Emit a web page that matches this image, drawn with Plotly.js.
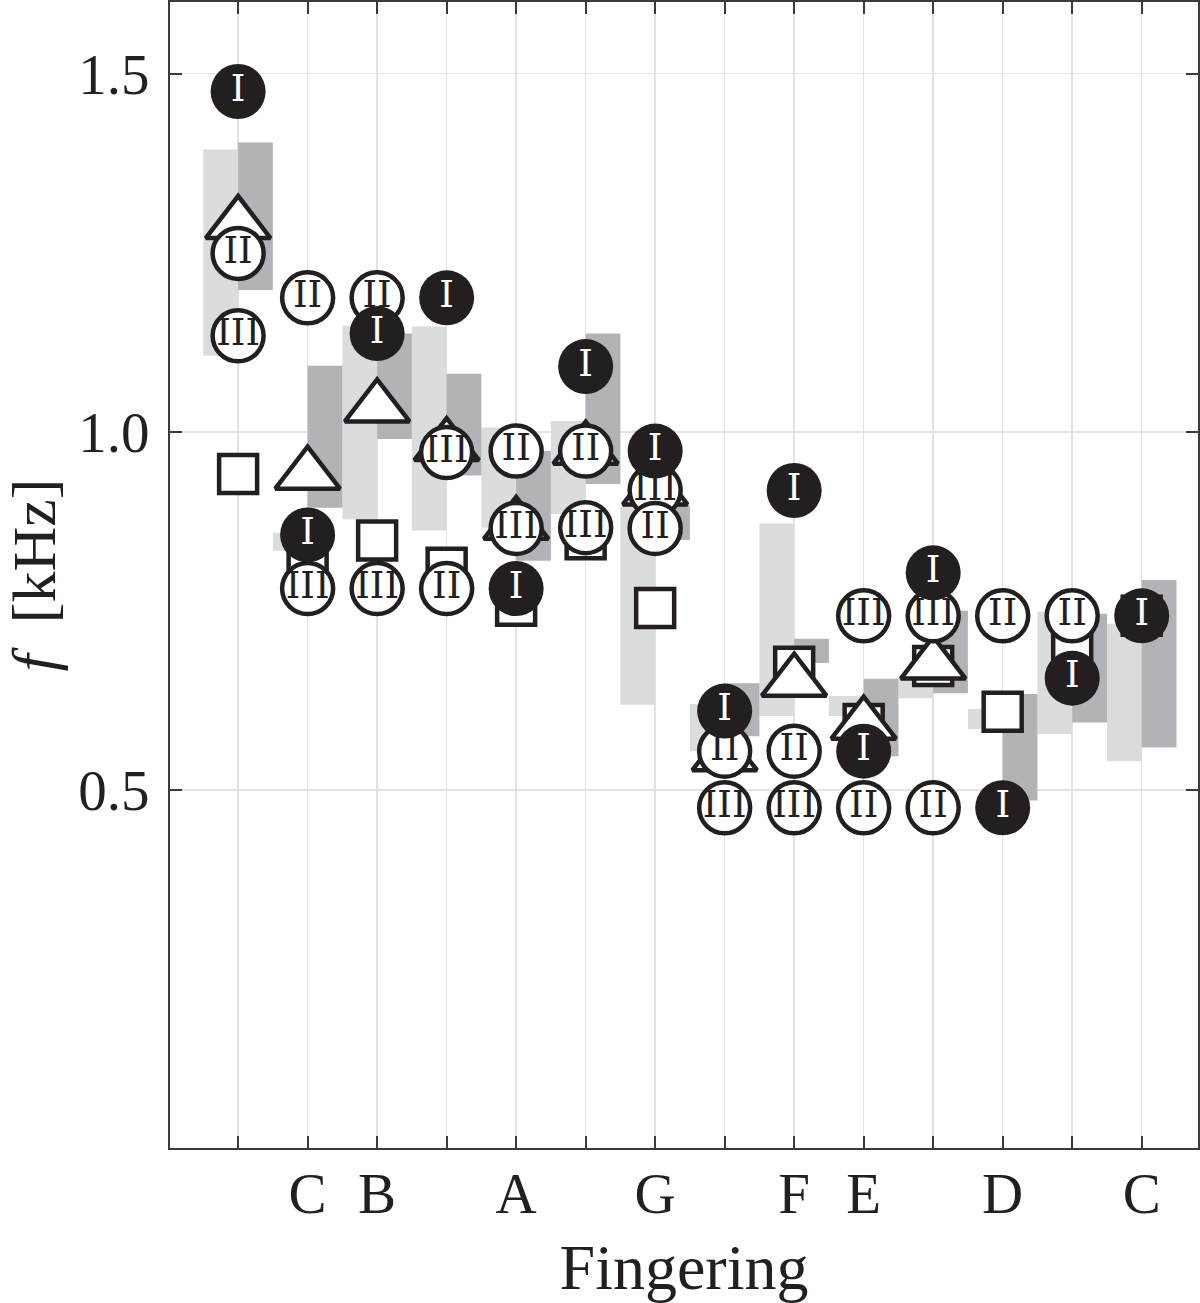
<!DOCTYPE html>
<html>
<head>
<meta charset="utf-8">
<script src="https://cdn.plot.ly/plotly-3.0.1.min.js"></script>
<style>
    html, body { margin: 0; padding: 0; background: #ffffff; }
    #chart { width: 1200px; height: 1303px; }
</style>
</head>
<body>
<div id="chart"></div>
<script>
// Fingering positions and their note labels
const positions = [1, 2, 3, 4, 5, 6, 7, 8, 9, 10, 11, 12, 13, 14];
const noteLabels = ["", "C", "B", "", "A", "", "G", "", "F", "E", "", "D", "", "C"];

// Shaded ranges [kHz]: light bar left of the position, dark bar right of it
const lightLow  = [1.106, 0.834, 0.878, 0.862, 0.866, 0.885, 0.619, 0.554, 0.603, 0.603, 0.628, 0.585, 0.578, 0.540];
const lightHigh = [1.394, 0.859, 1.148, 1.147, 1.006, 1.015, 0.897, 0.620, 0.872, 0.631, 0.656, 0.613, 0.749, 0.732];
const darkLow   = [1.198, 0.894, 0.990, 0.939, 0.820, 0.927, 0.849, 0.575, 0.677, 0.547, 0.635, 0.485, 0.594, 0.559];
const darkHigh  = [1.404, 1.092, 1.137, 1.081, 0.973, 1.137, 0.897, 0.649, 0.711, 0.655, 0.750, 0.634, 0.746, 0.793];

// Resonance frequencies [kHz] (null = not present)
const squareFreq   = [0.941, 0.830, 0.848, 0.810, 0.757, 0.850, 0.754, null, 0.672, 0.592, 0.673, 0.609, 0.690, 0.743];
const triangleFreq = [1.290, 0.940, 1.034, 0.980, 0.870, 0.975, 0.918, 0.547, 0.651, 0.591, 0.675, null, null, null];
const modeIFreq    = [1.475, 0.856, 1.137, 1.187, 0.781, 1.091, 0.973, 0.610, 0.918, 0.554, 0.803, 0.475, 0.656, 0.743];
const modeIIFreq   = [1.249, 1.187, 1.187, 0.781, 0.973, 0.973, 0.865, 0.554, 0.554, 0.475, 0.475, 0.743, 0.743, null];
const modeIIIFreq  = [1.134, 0.781, 0.781, 0.971, 0.865, 0.866, 0.918, 0.475, 0.475, 0.743, 0.743, null, null, null];

const INK = '#231f20';
const AXIS_COLOR = '#3a3a3a';
const FONT = '"Liberation Serif", "Times New Roman", serif';
const MARK_FONT = '"DejaVu Serif", serif';

const rangeBar = (low, high, color, offset) => ({
    type: 'bar',
    x: positions,
    base: low,
    y: high.map((h, i) => h - low[i]),
    width: 0.5,
    offset: offset,
    marker: { color: color, line: { width: 0 } },
    hoverinfo: 'skip'
});

const openMarker = (freq, symbol, size) => ({
    type: 'scatter',
    mode: 'markers',
    x: positions,
    y: freq,
    marker: {
        symbol: symbol,
        size: size,
        color: '#ffffff',
        line: { color: INK, width: 4.5 }
    },
    hoverinfo: 'skip',
    cliponaxis: false
});

const modeCircle = (freq, label, filled) => ({
    type: 'scatter',
    mode: 'markers+text',
    x: positions,
    y: freq,
    text: freq.map(v => v === null ? '' : label),
    textposition: 'middle center',
    textfont: { family: MARK_FONT, size: 37, color: filled ? '#ffffff' : INK },
    marker: filled
        ? { symbol: 'circle', size: 55, color: INK, line: { width: 0 } }
        : { symbol: 'circle', size: 51, color: '#ffffff', line: { color: INK, width: 4.5 } },
    hoverinfo: 'skip',
    cliponaxis: false
});

const data = [
    rangeBar(lightLow, lightHigh, '#dbdcde', -0.5),
    rangeBar(darkLow, darkHigh, '#b2b3b6', 0),
    openMarker(squareFreq, 'square', 38),
    openMarker(triangleFreq, 'triangle-up', 56),
    modeCircle(modeIIIFreq, 'III', false),
    modeCircle(modeIIFreq, 'II', false),
    modeCircle(modeIFreq, 'I', true)
];

const layout = {
    width: 1200,
    height: 1303,
    margin: { l: 170, r: 2, t: 2, b: 155 },
    paper_bgcolor: '#ffffff',
    plot_bgcolor: '#ffffff',
    showlegend: false,
    barmode: 'overlay',
    font: { family: FONT, size: 57, color: INK },
    xaxis: {
        range: [0.02, 14.81],
        tickmode: 'array',
        tickvals: positions,
        ticktext: noteLabels,
        ticks: 'inside',
        ticklen: 12,
        tickwidth: 2,
        tickcolor: AXIS_COLOR,
        ticklabelstandoff: -5,
        showgrid: true,
        gridcolor: '#e3e3e3',
        gridwidth: 1.5,
        zeroline: false,
        showline: true,
        linecolor: AXIS_COLOR,
        linewidth: 2,
        mirror: 'ticks',
        tickfont: { family: FONT, size: 57, color: INK },
        title: { text: 'Fingering', font: { family: FONT, size: 64, color: INK }, standoff: 38 }
    },
    yaxis: {
        range: [0, 1.6],
        tickmode: 'array',
        tickvals: [0.5, 1.0, 1.5],
        ticktext: ['0.5', '1.0', '1.5'],
        ticks: 'inside',
        ticklen: 12,
        tickwidth: 2,
        tickcolor: AXIS_COLOR,
        ticklabelstandoff: 7,
        showgrid: true,
        gridcolor: '#e3e3e3',
        gridwidth: 1.5,
        zeroline: false,
        showline: true,
        linecolor: AXIS_COLOR,
        linewidth: 2,
        mirror: 'ticks',
        tickfont: { family: FONT, size: 57, color: INK },
        title: { text: '<i>f</i>  [kHz]', font: { family: FONT, size: 62, color: INK }, standoff: 26 }
    }
};

Plotly.newPlot('chart', data, layout, { staticPlot: true, displayModeBar: false });
</script>
</body>
</html>
